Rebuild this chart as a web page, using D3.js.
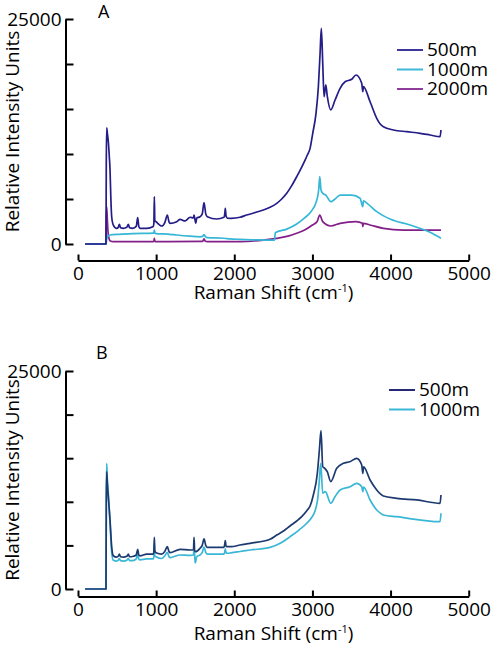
<!DOCTYPE html>
<html>
<head>
<meta charset="utf-8">
<script src="https://cdn.jsdelivr.net/npm/d3@7"></script>
<style>
  html, body { margin: 0; padding: 0; background: #fff; }
  svg { display: block; font-family: 'Open Sans', sans-serif; }
</style>
</head>
<body>
<div id="chart"></div>
<script>
// Raman shift (cm-1), relative intensity pairs
const a500 = [[90,0],[358,0],[362,9000],[367,12900],[376,12300],[388,11370],[400,9800],[410,8220],[420,5200],[431,3030],[452,2110],[495,1740],[515,1850],[529,2190],[545,1800],[580,1740],[625,1850],[644,2190],[660,1800],[700,1740],[745,1950],[764,2920],[778,1950],[794,1740],[879,1740],[964,1950],[971,2300],[977,5260],[983,2600],[998,2480],[1071,2000],[1110,2350],[1143,3220],[1165,2450],[1178,2300],[1263,2480],[1306,2740],[1370,2560],[1434,2970],[1478,2900],[1485,3220],[1497,2700],[1507,2300],[1520,2900],[1562,3030],[1590,3350],[1613,4590],[1635,3350],[1655,3030],[1775,2780],[1869,2970],[1879,3400],[1885,3970],[1895,3100],[1911,2860],[1960,2850],[2074,2970],[2159,3220],[2372,3780],[2458,4080],[2543,4520],[2607,5000],[2671,5630],[2735,6480],[2799,7480],[2850,8330],[2906,9330],[2935,9890],[2970,10630],[3004,12300],[3046,14520],[3076,17480],[3098,21190],[3114,23960],[3132,20080],[3149,16370],[3171,17670],[3191,16370],[3235,14890],[3290,16000],[3354,17300],[3418,18030],[3503,18300],[3558,18780],[3631,17850],[3645,16920],[3652,17480],[3738,15810],[3823,13970],[3870,13300],[3908,13030],[4036,12670],[4207,12480],[4378,12300],[4506,12110],[4634,11920],[4645,12670]];

const a1000 = [[90,0],[358,0],[372,700],[388,900],[410,1000],[529,1080],[700,1150],[964,1200],[971,1250],[977,1550],[984,1200],[998,1150],[1178,1080],[1263,1000],[1434,870],[1562,800],[1595,850],[1613,1050],[1630,820],[1655,700],[1869,640],[1946,560],[2074,520],[2300,450],[2515,430],[2525,1250],[2671,1650],[2799,2220],[2900,2900],[2970,3480],[3050,4700],[3080,6000],[3094,7480],[3110,6000],[3132,5630],[3171,5440],[3235,4700],[3290,5000],[3354,5440],[3503,5440],[3610,5080],[3645,4150],[3652,4800],[3700,4520],[3823,3590],[4000,2740],[4250,2110],[4506,1300],[4645,630]];

const a2000 = [[90,0],[358,0],[362,2800],[367,4140],[376,2600],[388,1000],[410,370],[452,260],[964,260],[971,300],[977,630],[984,300],[998,260],[1595,300],[1613,560],[1630,300],[1655,260],[2074,260],[2372,440],[2543,630],[2700,900],[2799,1190],[2900,1550],[3000,2110],[3060,2500],[3094,3220],[3132,2480],[3235,2000],[3354,2300],[3558,2480],[3640,2300],[3645,1920],[3652,2300],[3738,2110],[3908,1740],[4164,1550],[4645,1550]];

const b500 = [[90,0],[358,0],[362,9500],[367,13450],[376,12000],[388,10550],[410,7910],[431,4860],[452,3810],[495,3650],[515,3750],[529,3990],[545,3700],[580,3650],[625,3750],[644,3990],[660,3700],[700,3730],[745,3900],[764,4550],[778,3900],[794,3810],[879,4000],[964,4000],[971,4300],[977,5910],[983,4400],[998,4170],[1071,4010],[1110,4300],[1143,4850],[1165,4300],[1178,4170],[1306,4550],[1434,4470],[1478,4500],[1485,5930],[1493,4400],[1507,4280],[1562,4670],[1590,5000],[1613,5740],[1635,5000],[1655,4780],[1869,4780],[1879,5200],[1885,5540],[1895,4900],[1911,4850],[1960,4850],[2074,5050],[2202,5240],[2458,5700],[2543,6190],[2630,6650],[2714,7230],[2800,7800],[2863,8290],[2930,9000],[2970,9520],[3012,10780],[3063,13270],[3089,15940],[3110,18160],[3132,14030],[3158,13840],[3190,13450],[3235,12310],[3311,13840],[3396,14420],[3480,14600],[3567,14990],[3631,14220],[3645,13270],[3655,14000],[3738,12500],[3823,11360],[3870,10900],[3908,10670],[4079,10400],[4335,10210],[4634,9830],[4645,10780]];

const b1000 = [[90,0],[358,0],[362,10500],[367,14420],[376,12500],[388,11000],[410,7500],[431,4200],[452,3300],[495,3200],[515,3300],[529,3500],[545,3250],[580,3200],[625,3300],[644,3500],[660,3250],[700,3250],[745,3450],[764,4000],[778,3450],[794,3350],[879,3450],[964,3450],[971,3700],[977,5200],[983,3800],[998,3700],[1071,3500],[1110,3800],[1143,4200],[1165,3700],[1178,3600],[1306,3900],[1434,3850],[1478,3900],[1485,4700],[1493,3900],[1500,3000],[1520,3700],[1562,3900],[1590,4200],[1613,4800],[1635,4200],[1655,4000],[1869,4000],[1879,4300],[1885,4600],[1895,4150],[1911,4100],[1960,4150],[2074,4300],[2202,4470],[2458,4780],[2600,5300],[2714,6000],[2820,6700],[2927,7540],[2990,8200],[3037,9060],[3070,10500],[3089,12500],[3106,14420],[3132,10980],[3165,11160],[3235,9830],[3290,10600],[3354,11360],[3482,11730],[3567,12120],[3631,11730],[3645,11160],[3655,11700],[3738,10210],[3823,9060],[3870,8700],[3908,8490],[4079,8290],[4634,7720],[4645,8680]];

const xTicks = [0, 1000, 2000, 3000, 4000, 5000];
const yTicks = [0, 5000, 10000, 15000, 20000, 25000];
const yLabelled = [0, 25000];

const panels = [
  {
    letter: 'A', letterX: 98, letterY: 18,
    yTop: 19, yBottom: 244, xAxisY: 260.5, titleY: 299,
    legX: 397, legY: 50,
    series: [
      { name: '500m', data: a500, color: '#241d88', legColor: '#3e379a' },
      { name: '1000m', data: a1000, color: '#36b7d7', legColor: '#3cb9d8' },
      { name: '2000m', data: a2000, color: '#821f88', legColor: '#8e3d9b' }
    ]
  },
  {
    letter: 'B', letterX: 96, letterY: 359,
    yTop: 371, yBottom: 589, xAxisY: 596.5, titleY: 640,
    legX: 389, legY: 390,
    series: [
      { name: '500m', data: b500, color: '#1d3a70', legColor: '#262878' },
      { name: '1000m', data: b1000, color: '#3ab7d6', legColor: '#3ab7d6' }
    ]
  }
];

const width = 495;
const height = 647;
const axisX = 65.5;

const svg = d3.select('#chart')
  .append('svg')
  .attr('width', width)
  .attr('height', height);

const x = d3.scaleLinear().domain([0, 5000]).range([78, 468.7]);

panels.forEach(p => {
  const y = d3.scaleLinear().domain([0, 25000]).range([p.yBottom, p.yTop]);

  // y axis, ticks point inwards
  const yAxis = svg.append('g')
    .attr('transform', `translate(${axisX},0)`)
    .call(d3.axisLeft(y)
      .tickValues(yTicks)
      .tickSizeInner(-8)
      .tickSizeOuter(0)
      .tickPadding(4)
      .tickFormat(d => yLabelled.includes(d) ? d : ''));

  const xAxis = svg.append('g')
    .attr('transform', `translate(0,${p.xAxisY})`)
    .call(d3.axisBottom(x)
      .tickValues(xTicks)
      .tickSizeInner(-6)
      .tickSizeOuter(0)
      .tickPadding(6)
      .tickFormat(d3.format('d')));

  [yAxis, xAxis].forEach(ax => {
    ax.selectAll('path, line').attr('stroke', '#000').attr('stroke-width', 2);
    ax.selectAll('text')
      .attr('fill', '#000')
      .style('font-size', '19px')
      .style('font-family', "'Open Sans', sans-serif");
  });

  const line = d3.line()
    .x(d => x(d[0]))
    .y(d => y(d[1]))
    .curve(d3.curveMonotoneX);

  // draw back to front so 500m sits on top
  p.series.slice().reverse().forEach(s => {
    svg.append('path')
      .datum(s.data)
      .attr('fill', 'none')
      .attr('stroke', s.color)
      .attr('stroke-width', 1.7)
      .attr('stroke-linejoin', 'round')
      .attr('d', line);
  });

  // panel letter
  svg.append('text')
    .attr('x', p.letterX)
    .attr('y', p.letterY)
    .style('font-size', '18px')
    .text(p.letter);

  // axis titles
  svg.append('text')
    .attr('transform', `translate(19,${(p.yTop + p.yBottom) / 2}) rotate(-90)`)
    .attr('text-anchor', 'middle')
    .style('font-size', '19px')
    .text('Relative Intensity Units');

  const xt = svg.append('text')
    .attr('x', 273.5)
    .attr('y', p.titleY)
    .attr('text-anchor', 'middle')
    .style('font-size', '19px');
  xt.append('tspan').text('Raman Shift (cm');
  xt.append('tspan').attr('dy', -7).style('font-size', '11px').text('-1');
  xt.append('tspan').attr('dy', 7).text(')');

  // legend
  const leg = svg.append('g');
  p.series.forEach((s, i) => {
    const ly = p.legY + i * 19.5;
    leg.append('line')
      .attr('x1', p.legX).attr('x2', p.legX + 26)
      .attr('y1', ly).attr('y2', ly)
      .attr('stroke', s.legColor)
      .attr('stroke-width', 2);
    leg.append('text')
      .attr('x', p.legX + 30)
      .attr('y', ly + 6)
      .style('font-size', '19px')
      .text(s.name);
  });
});
</script>
</body>
</html>
